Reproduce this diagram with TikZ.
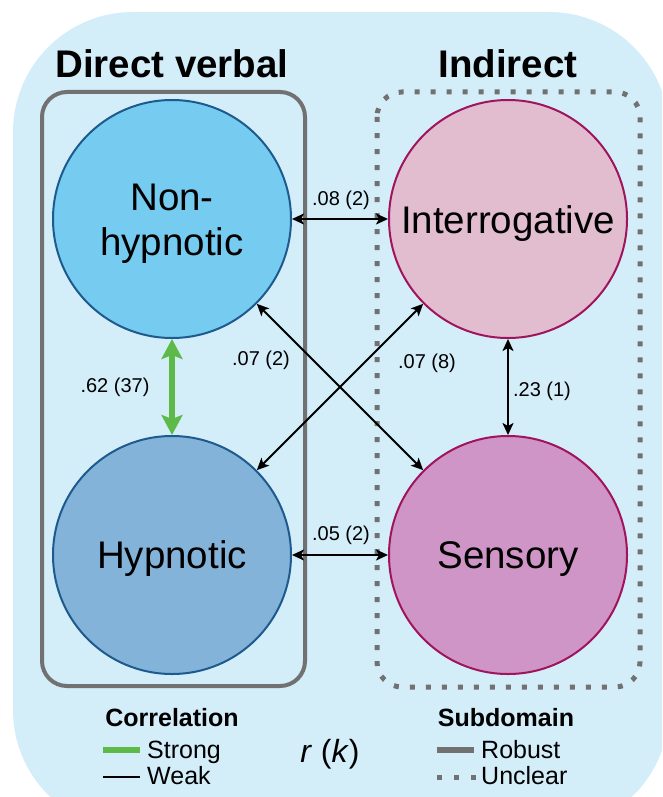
\documentclass[tikz,border=0pt]{standalone}
\usepackage{fontspec}
\setmainfont{Liberation Sans}
\usetikzlibrary{arrows.meta}
\definecolor{bgblue}{HTML}{D3EDF9}
\definecolor{npfill}{HTML}{76CBF0}
\definecolor{hyfill}{HTML}{84B3D9}
\definecolor{blueborder}{HTML}{1D5A8E}
\definecolor{infill}{HTML}{E2BDD0}
\definecolor{sefill}{HTML}{CF95C6}
\definecolor{magborder}{HTML}{A0145C}
\definecolor{boxgray}{HTML}{717171}
\definecolor{strongreen}{HTML}{5DBA49}
\tikzset{
  bubble/.style={circle, minimum size=238pt, inner sep=0pt, line width=2pt},
  dirbubble/.style={bubble, draw=blueborder},
  indbubble/.style={bubble, draw=magborder},
  bubbletext/.style={anchor=base, align=center, font=\fontsize{38.5}{45}\selectfont},
  titletext/.style={anchor=base, font=\fontsize{38.5}{45}\selectfont\bfseries},
  elabel/.style={anchor=base, inner sep=0pt, font=\fontsize{20}{24}\selectfont},
  legtitle/.style={anchor=base, inner sep=0pt, font=\fontsize{25}{30}\selectfont\bfseries},
  legtext/.style={anchor=base west, inner sep=0pt, font=\fontsize{25}{30}\selectfont},
  weakarrow/.style={line width=2pt, {Stealth[length=12pt,width=11pt,inset=3pt]}-{Stealth[length=12pt,width=11pt,inset=3pt]}},
  strongarrow/.style={line width=6pt, draw=strongreen, {Stealth[length=20pt,width=21pt,inset=4pt]}-{Stealth[length=20pt,width=21pt,inset=4pt]}},
  robustbox/.style={draw=boxgray, line width=4pt, rounded corners=25pt},
  unclearbox/.style={draw=boxgray, line width=5pt, dash pattern=on 5pt off 11pt, rounded corners=25pt}
}
\begin{document}
\begin{tikzpicture}[x=1pt,y=-1pt]
\useasboundingbox (0,0) rectangle (662,797);
\begin{scope}
\clip (0,0) rectangle (662,797);
\fill[bgblue, rounded corners=120pt] (13,12) rectangle (669,830);
\end{scope}

% subdomain boxes
\draw[robustbox] (42,92) rectangle (305,686);
\draw[unclearbox] (377,92) rectangle (640,687);

% titles
\node[titletext] (tdir) at (172,78) {Direct verbal};
\node[titletext] (tind) at (508,78) {Indirect};

% bubbles
\node[dirbubble, fill=npfill] (np) at (172,219) {};
\node[dirbubble, fill=hyfill] (hy) at (172,555) {};
\node[indbubble, fill=infill] (in) at (508,219) {};
\node[indbubble, fill=sefill] (se) at (508,555) {};

\node[bubbletext] (npt) at (172,255) {Non-\\hypnotic};
\node[bubbletext] (hyt) at (172,568) {Hypnotic};
\node[bubbletext] (int) at (508,233) {Interrogative};
\node[bubbletext] (set) at (508,568) {Sensory};

% connectors
\draw[weakarrow] (np.east) -- (in.west);
\draw[weakarrow] (hy.east) -- (se.west);
\draw[weakarrow] (in.south) -- (se.north);
\draw[weakarrow] (np.-45) -- (se.135);
\draw[weakarrow] (hy.45) -- (in.-135);
\draw[strongarrow] (np.south) -- (hy.north);

% connector labels
\node[elabel] (l1) at (341,205) {.08 (2)};
\node[elabel] (l2) at (341,540) {.05 (2)};
\node[elabel] (l3) at (115,392) {.62 (37)};
\node[elabel] (l4) at (261,365) {.07 (2)};
\node[elabel] (l5) at (427,368) {.07 (8)};
\node[elabel] (l6) at (542,396) {.23 (1)};

% legend
\node[legtitle] (corr) at (172,726) {Correlation};
\node[legtitle] (subd) at (506,726) {Subdomain};
\coordinate (sa) at (103,750); \coordinate (sb) at (140,750);
\coordinate (wa) at (103,777); \coordinate (wb) at (140,777);
\coordinate (ra) at (437,750); \coordinate (rb) at (474,750);
\draw[strongreen, line width=6pt] (sa) -- (sb);
\draw[black, line width=2.5pt] (wa) -- (wb);
\draw[boxgray, line width=6pt] (ra) -- (rb);
\foreach \xx in {439,456,473} {
  \fill[boxgray] (\xx-2.5,774.5) rectangle (\xx+2.5,779.5);
}
\node[legtext] (lstrong) at (147,758) {Strong};
\node[legtext] (lweak) at (147,784) {Weak};
\node[legtext] (lrob) at (481,758) {Robust};
\node[legtext] (lunc) at (481,784) {Unclear};
\node[anchor=base, inner sep=0pt, font=\fontsize{32}{38}\selectfont] (rk) at (330,762) {\textit{r} (\textit{k})};
\end{tikzpicture}
\end{document}
